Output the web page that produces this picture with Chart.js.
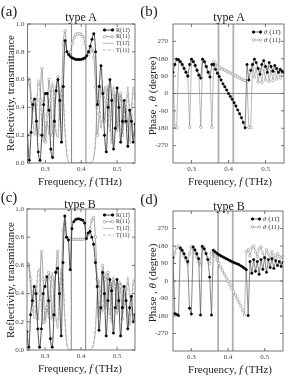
<!DOCTYPE html>
<html>
<head>
<meta charset="utf-8">
<script src="https://cdn.jsdelivr.net/npm/chart.js@4.4.1/dist/chart.umd.min.js"></script>
<style>
body { margin:0; background:#fff; }
#fig { position:relative; width:291px; height:378px; overflow:hidden; font-family:"Liberation Serif", serif; color:#222; }
canvas { position:absolute; }
.t { position:absolute; white-space:nowrap; line-height:1; transform:translate(-50%,-50%); }
.lab { font-size:15px; }
.ttl { font-size:12px; }
.ax { font-size:11px; }
.rot { transform:translate(-50%,-50%) rotate(-90deg); }
</style>
</head>
<body>
<div id="fig">
  <canvas id="ca" width="145" height="176" style="left:0;top:0"></canvas>
  <canvas id="cb" width="146" height="176" style="left:145px;top:0"></canvas>
  <canvas id="cc" width="145" height="176" style="left:0;top:188px"></canvas>
  <canvas id="cd" width="146" height="176" style="left:145px;top:188px"></canvas>

  <div class="t lab" style="left:9px;top:11px">(a)</div>
  <div class="t ttl" style="left:81px;top:17px">type A</div>
  <div class="t ax rot" style="left:10px;top:93px">Reflectivity, transmittance</div>
  <div class="t ax" style="left:80px;top:181px">Frequency, <i>f</i> (THz)</div>

  <div class="t lab" style="left:149px;top:11px">(b)</div>
  <div class="t ttl" style="left:229px;top:17px">type A</div>
  <div class="t ax rot" style="left:152px;top:96px">Phase , <i>θ</i> (degree)</div>
  <div class="t ax" style="left:230px;top:181px">Frequency, <i>f</i> (THz)</div>

  <div class="t lab" style="left:9px;top:197px">(c)</div>
  <div class="t ttl" style="left:80px;top:204px">type B</div>
  <div class="t ax rot" style="left:10px;top:280px">Reflectivity, transmittance</div>
  <div class="t ax" style="left:80px;top:368px">Frequency, <i>f</i> (THz)</div>

  <div class="t lab" style="left:149px;top:199px">(d)</div>
  <div class="t ttl" style="left:229px;top:206px">type B</div>
  <div class="t ax rot" style="left:152px;top:283px">Phase , <i>θ</i> (degree)</div>
  <div class="t ax" style="left:230px;top:369px">Frequency, <i>f</i> (THz)</div>
</div>
<script>
// frequency grid (THz)
const freq = [0.250,0.255,0.260,0.265,0.270,0.275,0.280,0.285,0.290,0.295,
  0.300,0.305,0.310,0.315,0.320,0.325,0.330,0.335,0.340,0.345,
  0.350,0.355,0.360,0.365,0.370,0.375,0.380,0.385,0.390,0.395,
  0.400,0.405,0.410,0.415,0.420,0.425,0.430,0.435,0.440,0.445,
  0.450,0.455,0.460,0.465,0.470,0.475,0.480,0.485,0.490,0.495,
  0.500,0.505,0.510,0.515,0.520,0.525,0.530,0.535,0.540,0.545,
  0.550];
const xTicks = [0.3, 0.4, 0.5];
const rTicks = [0, 0.2, 0.4, 0.6, 0.8, 1.0];
const phaseTicks = [-270, -180, -90, 0, 90, 180, 270];
const bandEdges = [0.373, 0.413];

// (a) type A
const aR1 = [0.20,0.02,0.22,0.42,0.46,0.30,0.08,0.02,0.20,0.42,
  0.50,0.50,0.38,0.10,0.04,0.30,0.52,0.60,0.45,0.15,
  0.55,0.88,0.80,0.78,0.765,0.755,0.75,0.745,0.745,0.745,
  0.745,0.75,0.755,0.77,0.80,0.84,0.89,0.93,0.80,0.42,
  0.55,0.70,0.50,0.20,0.08,0.40,0.60,0.45,0.10,0.25,
  0.54,0.40,0.15,0.30,0.45,0.30,0.12,0.38,0.30,0.15,
  0.28];
const aR2 = [0.60,0.58,0.45,0.38,0.42,0.30,0.20,0.45,0.68,0.45,
  0.15,0.35,0.60,0.45,0.20,0.48,0.55,0.62,0.30,0.50,
  0.86,0.95,0.80,0.78,0.80,0.86,0.90,0.925,0.93,0.93,
  0.925,0.91,0.86,0.80,0.78,0.80,0.82,0.76,0.55,0.20,
  0.35,0.55,0.52,0.30,0.45,0.55,0.35,0.15,0.45,0.50,
  0.25,0.45,0.50,0.20,0.35,0.40,0.25,0.15,0.35,0.20,
  0.22];
const aT1 = [0.55,0.62,0.50,0.30,0.20,0.35,0.60,0.55,0.30,0.15,
  0.25,0.30,0.20,0.45,0.58,0.40,0.22,0.18,0.40,0.55,
  0.45,0.20,0.05,0.01,0.00,0.00,0.00,0.00,0.00,0.00,
  0.00,0.00,0.00,0.00,0.00,0.00,0.01,0.04,0.15,0.45,
  0.40,0.25,0.35,0.55,0.50,0.30,0.25,0.45,0.55,0.40,
  0.22,0.35,0.50,0.40,0.28,0.40,0.55,0.35,0.40,0.55,
  0.45];
const aT2 = [0.58,0.60,0.45,0.28,0.25,0.40,0.58,0.50,0.28,0.18,
  0.30,0.28,0.25,0.50,0.55,0.35,0.20,0.22,0.45,0.52,
  0.48,0.25,0.06,0.01,0.00,0.00,0.00,0.00,0.00,0.00,
  0.00,0.00,0.00,0.00,0.00,0.00,0.01,0.05,0.18,0.40,
  0.45,0.30,0.30,0.50,0.55,0.35,0.22,0.40,0.50,0.45,
  0.25,0.30,0.48,0.45,0.30,0.35,0.50,0.40,0.35,0.50,
  0.48];

// (b) type A phase (degree)
const bP1 = [110,150,178,175,165,150,130,110,90,150,
  178,165,145,120,95,80,178,165,140,110,
  85,150,150,125,105,88,70,50,35,18,
  0,-15,-30,-48,-65,-85,-105,-125,-150,-178,
  150,70,120,150,178,160,130,100,150,170,
  140,110,160,140,115,145,130,110,125,115,
  110];
const bP2 = [150,-170,-178,170,162,148,130,110,92,-175,
  175,165,145,122,98,-175,175,162,138,112,
  88,-175,165,150,142,136,131,126,121,116,
  111,106,101,96,91,86,81,76,70,66,
  62,-175,-178,150,85,130,60,120,58,130,
  70,135,62,125,68,120,75,115,82,110,
  108];

// (c) type B
const cR1 = [0.13,0.02,0.25,0.35,0.45,0.40,0.15,0.02,0.15,0.40,
  0.45,0.52,0.35,0.08,0.02,0.25,0.55,0.58,0.40,0.10,
  0.62,0.95,0.80,0.78,0.57,0.86,0.91,0.925,0.93,0.93,
  0.925,0.92,0.90,0.79,0.83,0.84,0.80,0.75,0.62,0.45,
  0.14,0.30,0.55,0.40,0.10,0.35,0.50,0.42,0.12,0.30,
  0.50,0.35,0.10,0.30,0.45,0.35,0.15,0.30,0.38,0.20,
  0.25];
const cR2 = [0.62,0.60,0.50,0.30,0.42,0.35,0.22,0.40,0.70,0.50,
  0.20,0.30,0.55,0.50,0.22,0.45,0.55,0.70,0.35,0.45,
  0.85,0.90,0.80,0.79,0.79,0.785,0.785,0.785,0.785,0.785,
  0.785,0.785,0.79,0.80,0.82,0.86,0.92,0.94,0.80,0.50,
  0.25,0.40,0.60,0.50,0.30,0.55,0.45,0.20,0.50,0.45,
  0.28,0.48,0.45,0.22,0.40,0.35,0.25,0.18,0.30,0.25,
  0.22];
const cT1 = [0.58,0.62,0.48,0.32,0.22,0.30,0.55,0.58,0.35,0.18,
  0.22,0.32,0.25,0.40,0.55,0.45,0.25,0.15,0.35,0.58,
  0.50,0.22,0.05,0.01,0.00,0.00,0.00,0.00,0.00,0.00,
  0.00,0.00,0.00,0.00,0.00,0.00,0.01,0.04,0.14,0.40,
  0.48,0.30,0.28,0.50,0.52,0.35,0.25,0.42,0.52,0.42,
  0.25,0.32,0.48,0.42,0.30,0.38,0.52,0.38,0.35,0.50,
  0.48];
const cT2 = [0.60,0.58,0.44,0.30,0.26,0.36,0.56,0.52,0.30,0.20,
  0.28,0.30,0.22,0.46,0.52,0.38,0.22,0.20,0.42,0.55,
  0.52,0.26,0.07,0.01,0.00,0.00,0.00,0.00,0.00,0.00,
  0.00,0.00,0.00,0.00,0.00,0.00,0.01,0.05,0.17,0.36,
  0.50,0.34,0.26,0.46,0.55,0.38,0.22,0.38,0.50,0.46,
  0.28,0.30,0.45,0.46,0.32,0.34,0.48,0.42,0.32,0.46,
  0.50];

// (d) type B phase (degree)
const dP1 = [120,-168,-172,-178,170,158,140,120,100,-140,
  -170,175,160,140,115,-175,178,165,140,110,
  20,-175,158,150,142,135,130,125,120,115,
  110,105,100,96,92,88,84,78,72,65,
  58,-178,100,40,110,50,100,35,110,60,
  120,45,110,70,115,65,105,80,100,75,
  95];
const dP2 = [100,145,172,178,168,152,132,112,92,140,
  176,168,148,124,100,82,176,168,145,115,
  90,140,150,128,108,90,72,54,36,18,
  0,-18,-36,-54,-72,-90,-108,-128,-150,-176,
  150,160,130,170,178,150,125,165,175,145,
  120,160,140,115,150,130,120,140,125,120,
  125];

const pts = ys => freq.map((f, i) => ({ x: f, y: ys[i] }));
const tickFont = { family: '"Liberation Serif", serif', size: 7 };

function seg(ctx, x1, y1, x2, y2) {
  ctx.beginPath(); ctx.moveTo(x1, y1); ctx.lineTo(x2, y2); ctx.stroke();
}

const frame = {
  id: 'frame',
  beforeDatasetsDraw(chart, args, opt) {
    const { ctx, chartArea: a, scales: { x, y } } = chart;
    ctx.save();
    ctx.strokeStyle = opt.bandColor;
    ctx.lineWidth = opt.bandWidth;
    bandEdges.forEach(v => {
      const px = x.getPixelForValue(v);
      seg(ctx, px, a.top, px, a.bottom);
    });
    if (opt.zero) {
      ctx.strokeStyle = '#777';
      ctx.lineWidth = 0.8;
      const py = y.getPixelForValue(0);
      seg(ctx, a.left, py, a.right, py);
    }
    ctx.restore();
  },
  afterDraw(chart, args, opt) {
    const { ctx, chartArea: a, scales: { x, y } } = chart;
    ctx.save();
    ctx.strokeStyle = '#555';
    ctx.lineWidth = 0.8;
    ctx.strokeRect(a.left, a.top, a.right - a.left, a.bottom - a.top);
    x.ticks.forEach(t => {
      const px = x.getPixelForValue(t.value);
      seg(ctx, px, a.bottom, px, a.bottom - 3);
      seg(ctx, px, a.top, px, a.top + 3);
    });
    y.ticks.forEach(t => {
      const py = y.getPixelForValue(t.value);
      seg(ctx, a.left, py, a.left + 3, py);
      seg(ctx, a.right, py, a.right - 3, py);
    });

    // legend
    const lg = opt.legend;
    lg.items.forEach((it, k) => {
      const yy = a.top + lg.top + k * lg.dy;
      const x0 = a.right - lg.right;
      ctx.strokeStyle = it.line;
      ctx.lineWidth = 0.8;
      ctx.setLineDash(it.dash || []);
      seg(ctx, x0, yy, x0 + lg.w, yy);
      ctx.setLineDash([]);
      if (it.marker) {
        [x0 + 1.5, x0 + lg.w - 1.5].forEach(mx => {
          ctx.beginPath();
          ctx.arc(mx, yy, 1.3, 0, Math.PI * 2);
          ctx.fillStyle = it.fill;
          ctx.fill();
          ctx.strokeStyle = it.marker;
          ctx.lineWidth = 0.6;
          ctx.stroke();
        });
      }
      ctx.fillStyle = '#333';
      ctx.textBaseline = 'middle';
      let tx = x0 + lg.w + 2;
      let s = it.label;
      if (s.startsWith('θ')) {
        ctx.font = 'italic ' + lg.size + 'px "Liberation Serif"';
        ctx.fillText('θ', tx, yy);
        tx += ctx.measureText('θ').width;
        s = s.slice(1);
      }
      ctx.font = lg.size + 'px "Liberation Serif"';
      ctx.fillText(s, tx, yy);
    });
    ctx.restore();
  }
};

function makeChart(id, datasets, yr, yTicks, yFmt, box, plug) {
  new Chart(document.getElementById(id), {
    type: 'scatter',
    data: { datasets },
    plugins: [frame],
    options: {
      responsive: false,
      animation: false,
      events: [],
      layout: { padding: { top: box.top, right: box.right, left: 0, bottom: 0 } },
      plugins: { legend: { display: false }, tooltip: { enabled: false }, frame: plug },
      scales: {
        x: {
          type: 'linear', min: 0.25, max: 0.55,
          grid: { display: false, drawTicks: false }, border: { display: false },
          afterBuildTicks: s => { s.ticks = xTicks.map(v => ({ value: v })); },
          afterFit: s => { s.height = box.bottom; },
          ticks: { font: tickFont, color: '#444', padding: 2, maxRotation: 0, autoSkip: false,
                   callback: v => v.toFixed(1) }
        },
        y: {
          type: 'linear', min: yr[0], max: yr[1],
          grid: { display: false, drawTicks: false }, border: { display: false },
          afterBuildTicks: s => { s.ticks = yTicks.map(v => ({ value: v })); },
          afterFit: s => { s.width = box.left; },
          ticks: { font: tickFont, color: '#444', padding: box.pad, autoSkip: false, callback: yFmt }
        }
      }
    }
  });
}

function reflSets(r1, r2, t1, t2) {
  return [
    { data: pts(r1), showLine: true, borderColor: '#222', borderWidth: 0.8,
      cubicInterpolationMode: 'monotone',
      pointRadius: 1.2, pointBackgroundColor: '#000', pointBorderColor: '#000', pointBorderWidth: 0.5 },
    { data: pts(r2), showLine: true, borderColor: '#8a8a8a', borderWidth: 0.8,
      cubicInterpolationMode: 'monotone',
      pointRadius: 1.3, pointBackgroundColor: '#fff', pointBorderColor: '#8a8a8a', pointBorderWidth: 0.6 },
    { data: pts(t1), showLine: true, borderColor: '#a8a8a8', borderWidth: 0.8,
      cubicInterpolationMode: 'monotone', pointRadius: 0 },
    { data: pts(t2), showLine: true, borderColor: '#a8a8a8', borderWidth: 0.8, borderDash: [3, 2],
      cubicInterpolationMode: 'monotone', pointRadius: 0 }
  ];
}

function phaseSets(p1, p2) {
  return [
    { data: pts(p1), showLine: true, borderColor: '#555', borderWidth: 0.7, tension: 0,
      pointRadius: 1.2, pointBackgroundColor: '#000', pointBorderColor: '#000', pointBorderWidth: 0.5 },
    { data: pts(p2), showLine: true, borderColor: '#9a9a9a', borderWidth: 0.7, tension: 0,
      pointRadius: 1.3, pointBackgroundColor: '#fff', pointBorderColor: '#8a8a8a', pointBorderWidth: 0.6 }
  ];
}

const reflLegend = {
  top: 6, dy: 6.7, right: 32, w: 11, size: 6,
  items: [
    { label: 'R(11\u0304)', line: '#222', marker: '#000', fill: '#000' },
    { label: 'R(11)', line: '#8a8a8a', marker: '#8a8a8a', fill: '#fff' },
    { label: 'T(11\u0304)', line: '#a8a8a8' },
    { label: 'T(11)', line: '#a8a8a8', dash: [3, 2] }
  ]
};
const phaseLegend = {
  top: 8, dy: 8, right: 32, w: 10, size: 7,
  items: [
    { label: 'θ (11\u0304)', line: '#555', marker: '#000', fill: '#000' },
    { label: 'θ (11)', line: '#9a9a9a', marker: '#8a8a8a', fill: '#fff' }
  ]
};

const fmtR = v => v.toFixed(1);
const fmtP = v => String(v);

makeChart('ca', reflSets(aR1, aR2, aT1, aT2), [0, 1], rTicks, fmtR,
  { top: 24, right: 10, bottom: 13, left: 27.5, pad: 3 },
  { bandColor: '#666', bandWidth: 0.8, zero: false, legend: reflLegend });
makeChart('cb', phaseSets(bP1, bP2), [-360, 360], phaseTicks, fmtP,
  { top: 24, right: 7, bottom: 13, left: 28, pad: 5 },
  { bandColor: '#b0b0b0', bandWidth: 1.8, zero: true, legend: phaseLegend });
makeChart('cc', reflSets(cR1, cR2, cT1, cT2), [0, 1], rTicks, fmtR,
  { top: 21, right: 10, bottom: 14, left: 27, pad: 3 },
  { bandColor: '#666', bandWidth: 0.8, zero: false, legend: reflLegend });
makeChart('cd', phaseSets(dP1, dP2), [-360, 360], phaseTicks, fmtP,
  { top: 23, right: 8, bottom: 13, left: 28, pad: 5 },
  { bandColor: '#b0b0b0', bandWidth: 1.8, zero: true, legend: phaseLegend });
</script>
</body>
</html>
